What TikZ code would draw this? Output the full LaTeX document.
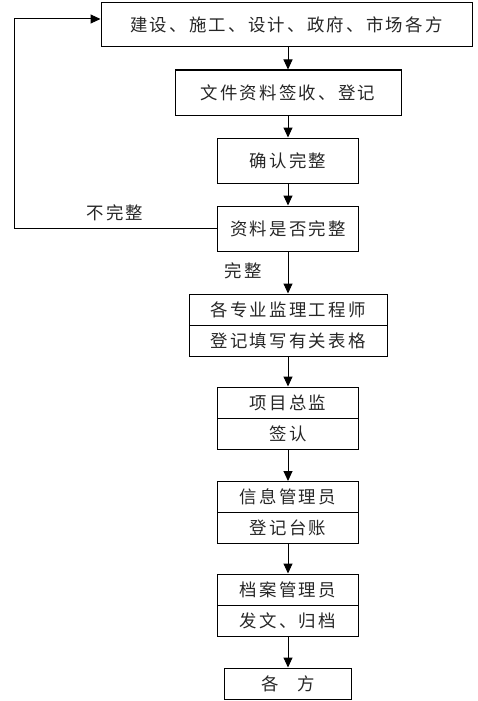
\documentclass[tikz,border=0pt]{standalone}
\usepackage{fontspec}
\setmainfont{Noto Sans CJK SC}[LetterSpace=13]
\usetikzlibrary{arrows.meta}
\begin{document}
\begin{tikzpicture}[x=1pt,y=-1pt,
  box/.style={draw, line width=1pt, inner sep=0pt, font=\fontsize{17.4}{19}\selectfont, text=black!85},
  lbl/.style={inner sep=0pt, font=\fontsize{17.4}{19}\selectfont, text=black!85},
  arr/.style={line width=1pt, -{Triangle[length=10pt,width=9pt]}}]
\useasboundingbox (0,0) rectangle (477,701);
\node[box, minimum width=371, minimum height=44] (b1) at (286.5,25) {建设、施工、设计、政府、市场各方};
\node[box, minimum width=226, minimum height=45] (b2) at (288,92.5) {文件资料签收、登记};
\node[box, minimum width=141, minimum height=45] (b3) at (288,160.5) {确认完整};
\node[box, minimum width=141, minimum height=45] (b4) at (288,228.5) {资料是否完整};
\node[box, minimum width=198, minimum height=31] (b5a) at (288,309.5) {各专业监理工程师};
\node[box, minimum width=198, minimum height=31] (b5b) at (288,340.5) {登记填写有关表格};
\node[box, minimum width=141, minimum height=31] (b6a) at (288,402.5) {项目总监};
\node[box, minimum width=141, minimum height=31] (b6b) at (288,433.5) {签认};
\node[box, minimum width=141, minimum height=31] (b7a) at (288,497) {信息管理员};
\node[box, minimum width=141, minimum height=31] (b7b) at (288,528) {登记台账};
\node[box, minimum width=141, minimum height=31] (b8a) at (288,589.5) {档案管理员};
\node[box, minimum width=141, minimum height=31] (b8b) at (288,620.5) {发文、归档};
\node[box, minimum width=127, minimum height=31] (b9) at (288,683.5) {各\hspace{19pt}方};
\node[lbl] (l1) at (115,213) {不完整};
\node[lbl] (l2) at (243,271) {完整};
\coordinate (lx) at (14,0);
\draw[arr] (b1.south -| b2.north) -- (b2.north);
\draw[arr] (b2.south) -- (b3.north);
\draw[arr] (b3.south) -- (b4.north);
\draw[arr] (b4.south) -- (b5a.north);
\draw[arr] (b5b.south) -- (b6a.north);
\draw[arr] (b6b.south) -- (b7a.north);
\draw[arr] (b7b.south) -- (b8a.north);
\draw[arr] (b8b.south) -- (b9.north);
\draw[arr] (b4.west) -- (b4.west -| lx) |- ([yshift=6pt]b1.west);
\end{tikzpicture}
\end{document}
